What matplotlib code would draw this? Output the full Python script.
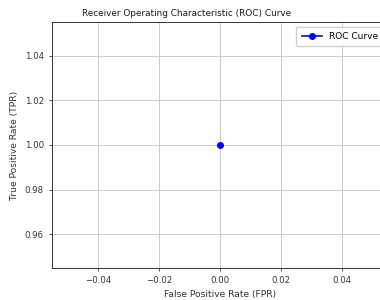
import matplotlib
matplotlib.use("Agg")
import matplotlib.pyplot as plt

# single ROC point
fpr = [0.0]
tpr = [1.0]
series_label = "ROC Curve"


def main() -> None:
    fig = plt.figure(figsize=(3.8, 3.0), dpi=100)
    # axes runs past the right edge, as in the reference
    ax = fig.add_axes([52 / 380, 32 / 300, 336 / 380, 246 / 300])

    ax.plot(fpr, tpr, marker="o", color="blue", markersize=4, linewidth=1.2, label=series_label)

    ax.set_title("Receiver Operating Characteristic (ROC) Curve", fontsize=6.4,
                 color="#1a1a1a", x=(187 - 52) / 336, pad=4)
    ax.set_xlabel("False Positive Rate (FPR)", fontsize=6.6, color="#333333", labelpad=3)
    ax.set_ylabel("True Positive Rate (TPR)", fontsize=6.6, color="#333333", labelpad=4)
    ax.tick_params(labelsize=6.2, colors="#333333", length=2.5, width=0.6)
    for s in ax.spines.values():
        s.set_linewidth(0.7)
        s.set_color("#333333")
    ax.grid(True, color="#cccccc", linewidth=0.7)
    ax.legend(loc="upper right", fontsize=6.5, handlelength=2.2, borderpad=0.6,
              fancybox=True, framealpha=0.9)

    fig.savefig("out.png", dpi=100)
    plt.close(fig)


if __name__ == "__main__":
    main()
